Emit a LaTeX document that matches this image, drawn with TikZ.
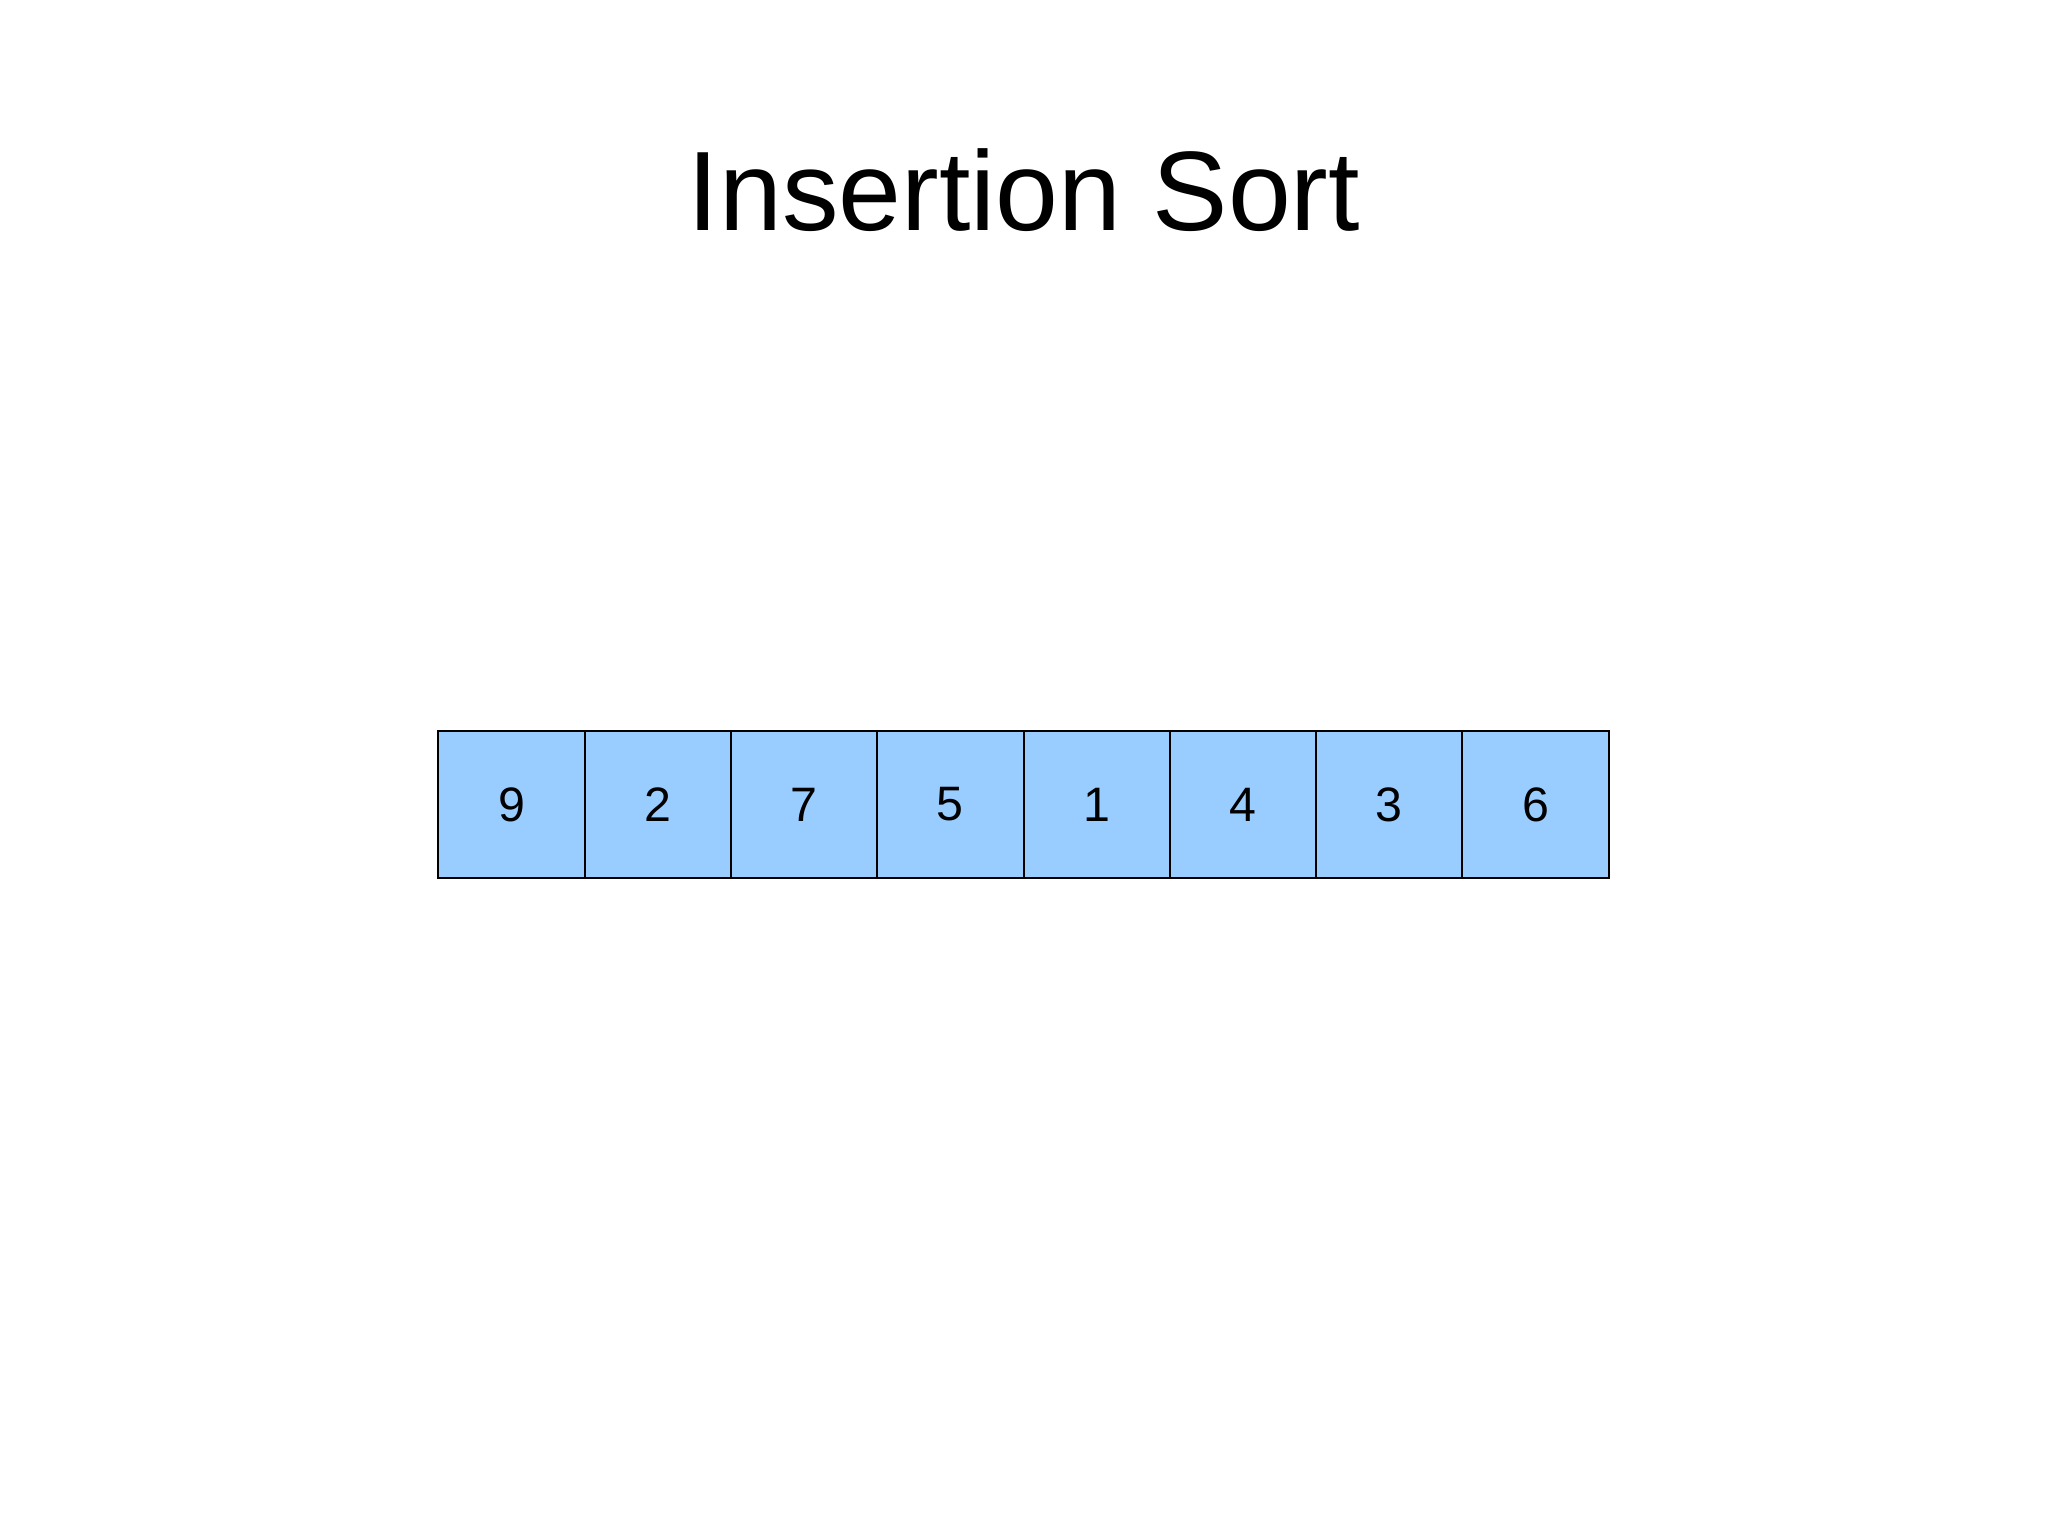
\documentclass[tikz,border=0pt]{standalone}
\usepackage{fontspec}
\setmainfont{Liberation Sans}
\definecolor{cellblue}{HTML}{99CCFF}
\begin{document}
\begin{tikzpicture}[x=0.3pt,y=-0.3pt,
  cell/.style={draw=black, fill=cellblue, line width=0.6pt, minimum width=146.3*0.3pt, minimum height=146.3*0.3pt, inner sep=0pt, outer sep=0pt, font=\fontsize{14.5}{17}\selectfont, anchor=north west},
  titletext/.style={font=\fontsize{33.9}{40}\selectfont, anchor=base}]
\useasboundingbox (0,0) rectangle (2048,1536);
\node[titletext] (title) at (1024,231) {Insertion Sort};
\foreach \v [count=\i from 0] in {9,2,7,5,1,4,3,6} {
  \node[cell] (c\i) at ({438.3+146.3*\i},731.3) {\v};
}
\end{tikzpicture}
\end{document}
